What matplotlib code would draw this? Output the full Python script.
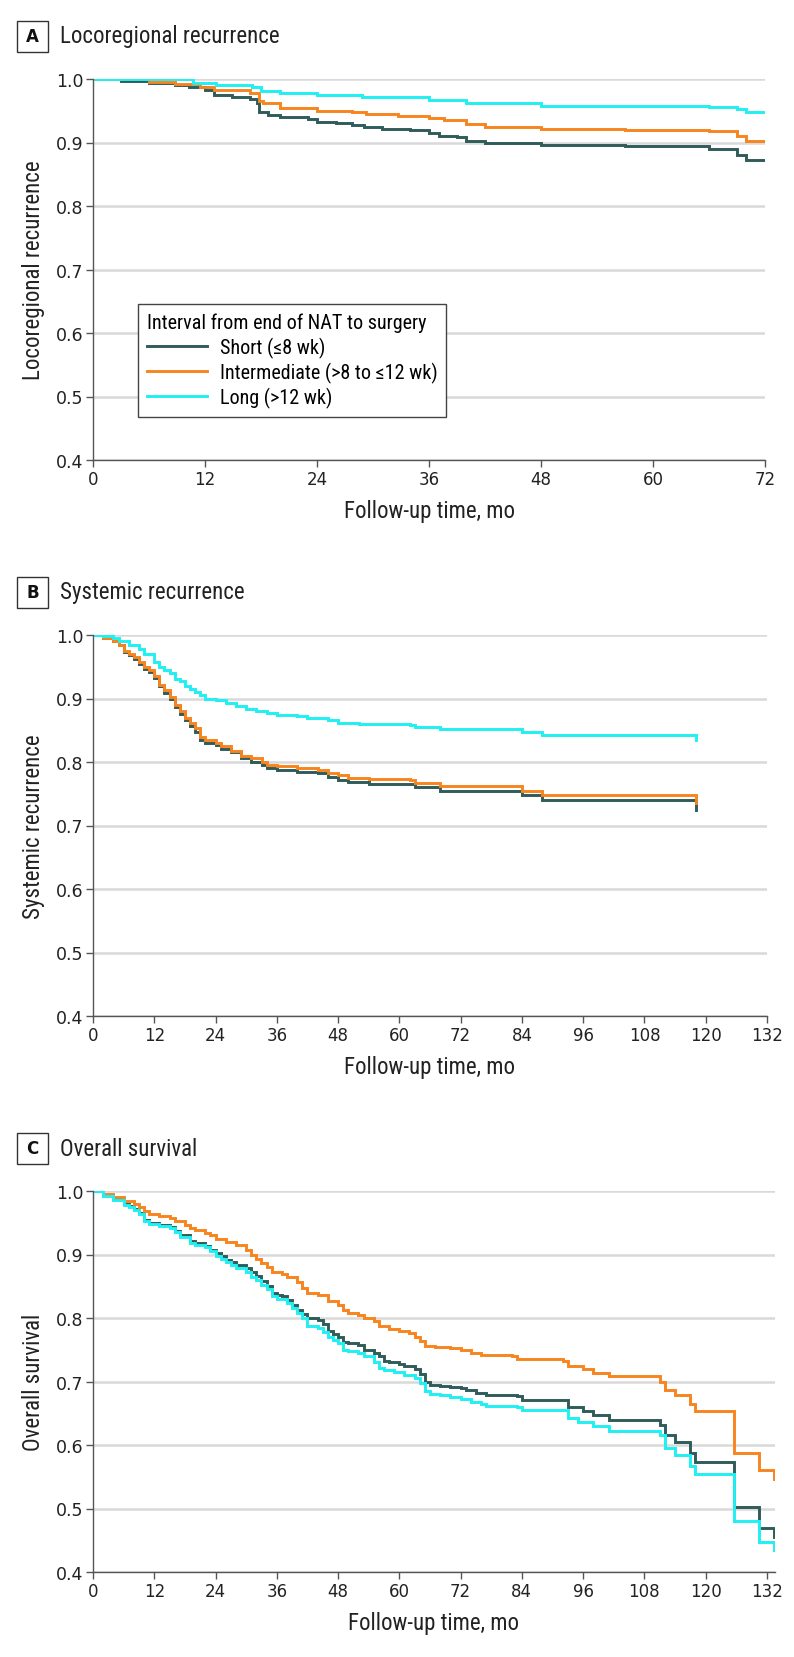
import matplotlib
matplotlib.use("Agg")
from matplotlib import pyplot as plt
from matplotlib.lines import Line2D
from matplotlib.patches import Rectangle

# Panel A - locoregional recurrence
aShortX = [0, 3, 6, 8.8, 10.3, 12, 13, 14.9, 16.8, 17.6, 17.8, 18.8, 20, 23, 24, 26, 27.8, 29, 31, 34, 36, 37.1, 39, 40, 42, 48, 57, 66, 69, 70, 72]
aShortY = [1.0, 0.997, 0.994, 0.99, 0.987, 0.983, 0.975, 0.972, 0.968, 0.962, 0.948, 0.943, 0.940, 0.937, 0.933, 0.931, 0.928, 0.925, 0.922, 0.920, 0.915, 0.911, 0.908, 0.903, 0.900, 0.896, 0.894, 0.890, 0.880, 0.873, 0.873]
aInterX = [0, 6, 8.8, 11.5, 13, 16.8, 17.8, 18.2, 20, 23, 24, 27.8, 29.3, 32.7, 36, 37.6, 40, 42, 48, 57, 66, 69, 70, 72]
aInterY = [1.0, 0.995, 0.992, 0.987, 0.982, 0.978, 0.966, 0.962, 0.955, 0.954, 0.950, 0.948, 0.945, 0.942, 0.939, 0.935, 0.929, 0.925, 0.921, 0.920, 0.918, 0.910, 0.903, 0.903]
aLongX = [0, 10.7, 13.2, 17, 18, 20, 24, 28.8, 36, 40, 48, 66, 69, 70, 72]
aLongY = [1.0, 0.994, 0.991, 0.988, 0.981, 0.978, 0.975, 0.971, 0.967, 0.962, 0.958, 0.956, 0.953, 0.948, 0.948]

# Panel B - systemic recurrence
bLongX = [0, 2, 4, 5, 7, 9, 10, 12, 13, 14, 15, 16, 17, 18, 19, 20, 21, 22, 24, 26, 28, 30, 32, 34, 36, 40, 42, 46, 48, 52, 62, 63, 68, 84, 88, 118, 118]
bLongY = [1.0, 0.998, 0.995, 0.99, 0.985, 0.978, 0.97, 0.958, 0.95, 0.945, 0.94, 0.93, 0.927, 0.92, 0.915, 0.91, 0.905, 0.90, 0.898, 0.893, 0.888, 0.884, 0.88, 0.877, 0.874, 0.872, 0.87, 0.866, 0.862, 0.86, 0.858, 0.855, 0.852, 0.847, 0.843, 0.843, 0.835]
bInterX = [0, 2, 4, 5, 6, 7, 8, 9, 10, 11, 12, 13, 14, 15, 16, 17, 18, 19, 20, 21, 22, 24, 25, 27, 29, 31, 33, 34, 36, 40, 44, 46, 48, 50, 54, 62, 63, 68, 84, 88, 118, 118]
bInterY = [1.0, 0.995, 0.99, 0.985, 0.975, 0.97, 0.965, 0.958, 0.95, 0.945, 0.935, 0.922, 0.913, 0.903, 0.89, 0.88, 0.87, 0.862, 0.853, 0.84, 0.835, 0.83, 0.825, 0.818, 0.81, 0.806, 0.80, 0.796, 0.794, 0.79, 0.787, 0.782, 0.779, 0.775, 0.773, 0.771, 0.767, 0.762, 0.755, 0.748, 0.748, 0.735]
bShortX = [0, 2, 4, 5, 6, 7, 8, 9, 10, 11, 12, 13, 14, 15, 16, 17, 18, 19, 20, 21, 22, 24, 25, 27, 29, 31, 33, 34, 36, 40, 44, 46, 48, 50, 54, 62, 63, 68, 84, 88, 118, 118]
bShortY = [1.0, 0.995, 0.99, 0.984, 0.974, 0.968, 0.962, 0.955, 0.947, 0.942, 0.932, 0.919, 0.909, 0.899, 0.886, 0.876, 0.866, 0.857, 0.848, 0.835, 0.830, 0.826, 0.821, 0.815, 0.806, 0.80, 0.795, 0.79, 0.788, 0.785, 0.782, 0.776, 0.772, 0.769, 0.766, 0.765, 0.76, 0.755, 0.748, 0.74, 0.74, 0.725]

# Panel C - overall survival
cInterX = [0, 2, 4, 6, 8, 9, 10, 11, 13, 15, 16, 18, 19, 20, 22, 23, 24, 26, 28, 30, 31, 32, 33, 34, 35, 37, 38, 40, 41, 42, 44, 46, 48, 49, 50, 52, 53, 55, 56, 58, 60, 62, 63, 64, 65, 67, 70, 72, 74, 76, 82, 83, 92, 93, 96, 98, 101, 110, 111, 112, 114, 117, 118, 125.5, 130.5, 133.5, 133.5]
cInterY = [1.0, 0.995, 0.99, 0.985, 0.98, 0.975, 0.968, 0.963, 0.96, 0.957, 0.952, 0.947, 0.942, 0.938, 0.934, 0.93, 0.925, 0.92, 0.915, 0.907, 0.90, 0.893, 0.887, 0.88, 0.873, 0.87, 0.864, 0.856, 0.848, 0.84, 0.836, 0.826, 0.82, 0.812, 0.808, 0.805, 0.80, 0.795, 0.787, 0.783, 0.78, 0.777, 0.77, 0.764, 0.756, 0.754, 0.752, 0.749, 0.745, 0.742, 0.74, 0.735, 0.733, 0.724, 0.719, 0.714, 0.709, 0.709, 0.70, 0.686, 0.678, 0.665, 0.653, 0.587, 0.56, 0.56, 0.547]
cShortX = [0, 2, 4, 6, 7, 8, 9, 10, 11, 13, 15, 16, 17, 19, 20, 22, 23, 24, 25, 26, 27, 28, 30, 31, 32, 33, 34, 35, 36, 37, 38, 39, 40, 41, 42, 44, 45, 46, 47, 48, 49, 50, 52, 53, 55, 56, 57, 58, 60, 61, 63, 64, 65, 66, 68, 70, 72, 73, 75, 77, 83, 84, 92, 93, 96, 98, 101, 110, 111, 112, 114, 117, 118, 125.5, 130.5, 133.5, 133.5]
cShortY = [1.0, 0.993, 0.987, 0.98, 0.977, 0.972, 0.965, 0.955, 0.95, 0.947, 0.944, 0.937, 0.93, 0.922, 0.918, 0.914, 0.907, 0.902, 0.897, 0.892, 0.888, 0.884, 0.879, 0.873, 0.866, 0.858, 0.85, 0.84, 0.837, 0.835, 0.828, 0.82, 0.813, 0.806, 0.80, 0.797, 0.79, 0.78, 0.775, 0.77, 0.762, 0.76, 0.757, 0.75, 0.745, 0.74, 0.732, 0.73, 0.728, 0.725, 0.72, 0.712, 0.70, 0.695, 0.693, 0.692, 0.69, 0.687, 0.682, 0.679, 0.677, 0.671, 0.671, 0.66, 0.654, 0.648, 0.64, 0.64, 0.632, 0.615, 0.604, 0.588, 0.574, 0.502, 0.47, 0.47, 0.455]
cLongX = [0, 2, 4, 6, 7, 8, 9, 10, 11, 13, 15, 16, 17, 19, 20, 22, 23, 24, 25, 26, 27, 28, 30, 31, 32, 33, 34, 35, 36, 38, 39, 40, 41, 42, 44, 45, 46, 47, 48, 49, 50, 52, 53, 55, 56, 57, 59, 61, 63, 64, 65, 66, 68, 70, 72, 74, 76, 77, 83, 84, 92, 93, 95, 98, 101, 110, 111, 112, 114, 117, 118, 125.5, 130.5, 133.5, 133.5]
cLongY = [1.0, 0.992, 0.986, 0.978, 0.975, 0.97, 0.963, 0.953, 0.948, 0.945, 0.942, 0.935, 0.928, 0.918, 0.915, 0.912, 0.905, 0.898, 0.893, 0.888, 0.884, 0.879, 0.872, 0.865, 0.86, 0.852, 0.845, 0.835, 0.83, 0.823, 0.815, 0.808, 0.80, 0.788, 0.784, 0.778, 0.77, 0.765, 0.76, 0.75, 0.748, 0.745, 0.74, 0.73, 0.722, 0.718, 0.715, 0.71, 0.705, 0.697, 0.685, 0.68, 0.678, 0.675, 0.673, 0.668, 0.665, 0.662, 0.66, 0.655, 0.655, 0.642, 0.637, 0.63, 0.622, 0.622, 0.615, 0.595, 0.585, 0.567, 0.555, 0.48, 0.448, 0.448, 0.435]

groupNames = ["Short (\u22648 wk)", "Intermediate (>8 to \u226412 wk)", "Long (>12 wk)"]
colours = ["#2f5b59", "#f7841e", "#1ff0f2"]
yTicks = [0.4, 0.5, 0.6, 0.7, 0.8, 0.9, 1.0]

W, H = 794, 1658
narrow = ["Liberation Sans Narrow", "DejaVu Sans Condensed", "Roboto Condensed", "DejaVu Sans"]

fig = plt.figure(figsize=(W / 100, H / 100), dpi=100)


def pixAxes(left, right, top, bottom):
    return fig.add_axes([left / W, 1 - bottom / H, (right - left) / W, (bottom - top) / H])


def drawPanel(ax, letter, title, ylabel, xMax, xTicks, series, titleY):
    for (xs, ys), c in zip(series, colours):
        ax.step(xs, ys, where="post", color=c, lw=2.1, solid_joinstyle="miter")
    ax.set_xlim(0, xMax)
    ax.set_ylim(0.4, 1.0)
    ax.set_yticks(yTicks)
    ax.set_yticklabels(["%.1f" % v for v in yTicks])
    ax.set_xticks(xTicks)
    ax.grid(axis="y", color="#d9d9d9", lw=1.8)
    ax.set_axisbelow(True)
    for s in ["top", "right"]:
        ax.spines[s].set_visible(False)
    for s in ["left", "bottom"]:
        ax.spines[s].set_color("#555555")
        ax.spines[s].set_linewidth(1.0)
    ax.tick_params(colors="#555555", labelcolor="#222222", labelsize=12, length=5, width=1.0, pad=2)
    ax.tick_params(axis="y", labelsize=12.5)
    ax.set_xlabel("Follow-up time, mo", fontsize=16.5, family=narrow, stretch="condensed",
                  color="#222222", labelpad=8)
    ax.set_ylabel(ylabel, fontsize=16.5, family=narrow, stretch="condensed", color="#222222", labelpad=8)
    # boxed panel letter
    fig.patches.append(Rectangle((17 / W, 1 - (titleY + 15.5) / H), 31 / W, 31 / H, transform=fig.transFigure,
                                 fc="white", ec="#333333", lw=1.0))
    fig.text(32.5 / W, 1 - titleY / H, letter, fontsize=12, fontweight="bold", ha="center", va="center",
             color="#111111")
    fig.text(60 / W, 1 - titleY / H, title, fontsize=16.5, family=narrow, stretch="condensed",
             color="#222222", va="center")


axA = pixAxes(93, 765, 80, 461)
drawPanel(axA, "A", "Locoregional recurrence", "Locoregional recurrence", 72, range(0, 73, 12),
          [(aShortX, aShortY), (aInterX, aInterY), (aLongX, aLongY)], 37)
handles = [Line2D([], [], color=c, lw=2.1) for c in colours]
leg = axA.legend(handles, groupNames, title="Interval from end of NAT to surgery", loc="lower left",
                 bbox_to_anchor=(0.052, 0.087), fancybox=False, edgecolor="#444444", framealpha=1,
                 prop={"family": narrow, "size": 14.5, "stretch": "condensed"}, handlelength=3.0,
                 borderpad=0.45, labelspacing=0.2, handletextpad=0.6, alignment="left")
leg.get_title().set_fontfamily(narrow)
leg.get_title().set_fontstretch("condensed")
leg.get_title().set_fontsize(14.5)
leg.get_frame().set_linewidth(1.0)

axB = pixAxes(93, 767, 636, 1017)
drawPanel(axB, "B", "Systemic recurrence", "Systemic recurrence", 132, range(0, 133, 12),
          [(bShortX, bShortY), (bInterX, bInterY), (bLongX, bLongY)], 593)

axC = pixAxes(93, 775, 1192, 1573)
drawPanel(axC, "C", "Overall survival", "Overall survival", 133.6, range(0, 133, 12),
          [(cShortX, cShortY), (cInterX, cInterY), (cLongX, cLongY)], 1149)

fig.savefig("out.png", dpi=100)
